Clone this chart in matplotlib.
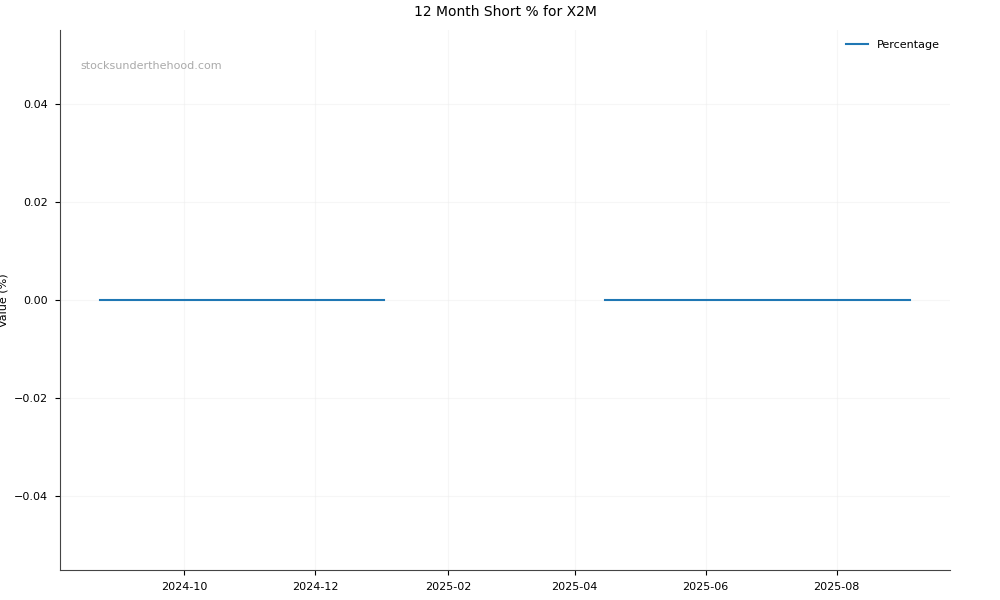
import numpy as np
import pandas as pd
import matplotlib
matplotlib.use("Agg")
import matplotlib.pyplot as plt
import matplotlib.dates as mdates

# short-position report dates (gap = no data)
dates = ["2024-08-23", "2024-09-06", "2024-09-20", "2024-10-04", "2024-10-18",
         "2024-11-01", "2024-11-15", "2024-11-29", "2024-12-13", "2024-12-27",
         "2025-01-02", "2025-02-15",
         "2025-04-15", "2025-04-29", "2025-05-13", "2025-05-27", "2025-06-10",
         "2025-06-24", "2025-07-08", "2025-07-22", "2025-08-05", "2025-08-19",
         "2025-09-04"]
short_pct = [0, 0, 0, 0, 0, 0, 0, 0, 0, 0, 0, np.nan,
             0, 0, 0, 0, 0, 0, 0, 0, 0, 0, 0]

ticker = "X2M"

df = pd.DataFrame({"date": pd.to_datetime(dates), "pct": short_pct})

fig, ax = plt.subplots(figsize=(10, 6), dpi=100)
fig.subplots_adjust(left=0.06, right=0.95, top=0.95, bottom=0.05)

ax.plot(df["date"], df["pct"], color="#1f77b4", linewidth=1.5, label="Percentage")

ax.xaxis.set_major_locator(mdates.MonthLocator(bymonth=[2, 4, 6, 8, 10, 12]))
ax.xaxis.set_major_formatter(mdates.DateFormatter("%Y-%m"))

ax.set_title(f"12 Month Short % for {ticker}", fontsize=10, pad=10)
ax.set_ylabel("Value (%)", fontsize=8, labelpad=4)
ax.tick_params(labelsize=8)
ax.tick_params(axis="y", pad=5)
ax.tick_params(axis="x", pad=5)
ax.grid(True, color="#eeeeee", alpha=0.5, linewidth=0.8)
ax.spines["top"].set_visible(False)
ax.spines["right"].set_visible(False)
ax.spines["left"].set_color("#444444")
ax.spines["bottom"].set_color("#444444")
ax.legend(loc="upper right", frameon=False, fontsize=8)
ax.text(0.023, 0.927, "stocksunderthehood.com", transform=ax.transAxes,
        fontsize=8, color="#aaaaaa")

fig.savefig("out.png")
